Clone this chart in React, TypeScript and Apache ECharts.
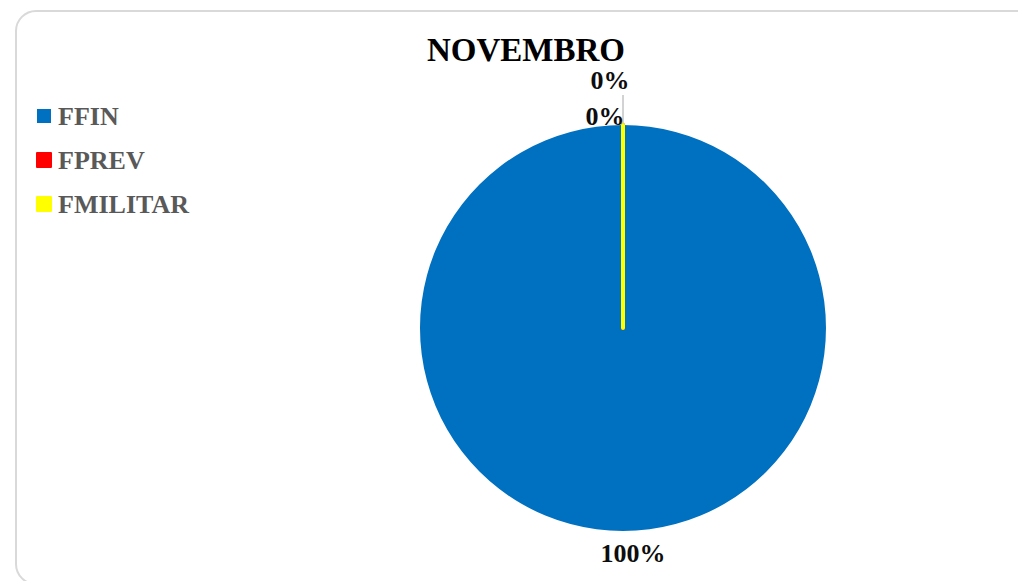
import React, { useEffect, useRef } from "react";
import * as echarts from "echarts";

const categories = ["FFIN", "FPREV", "FMILITAR"];
const values = [100, 0, 0];
const colors = ["#0070C0", "#FF0000", "#FFFF00"];
const title = "NOVEMBRO";

const FONT = "'Liberation Serif', 'Times New Roman', serif";
const CX = 623;
const CY = 328;
const R = 203;

export default function App() {
  const ref = useRef<HTMLDivElement>(null);
  useEffect(() => {
    if (!ref.current) return;
    const chart = echarts.init(ref.current, null, { renderer: "svg" });
    const data = categories.map((name, i) => ({
      name,
      value: values[i],
      itemStyle: {
        color: colors[i],
        borderColor: colors[i],
        borderWidth: i === 0 ? 0 : 4,
      },
      labelLine: { show: i === 2 },
    }));
    chart.setOption({
      animation: false,
      backgroundColor: "#ffffff",
      graphic: [
        {
          type: "rect",
          z: -10,
          shape: { x: 16, y: 11, width: 1040, height: 573, r: 20 },
          style: { fill: "transparent", stroke: "#d9d9d9", lineWidth: 2 },
          silent: true,
        },
      ],
      title: {
        text: title,
        left: 526,
        top: 33,
        padding: 0,
        textAlign: "center",
        textStyle: {
          fontFamily: FONT,
          fontWeight: "bold",
          fontSize: 33,
          lineHeight: 33,
          color: "#000000",
        },
      },
      legend: {
        orient: "vertical",
        left: 36,
        top: 103,
        padding: 0,
        icon: "rect",
        itemWidth: 14,
        itemHeight: 14,
        itemGap: 18,
        data: categories,
        textStyle: {
          fontFamily: FONT,
          fontWeight: "bold",
          fontSize: 26,
          lineHeight: 26,
          color: "#595959",
          padding: [0, 0, 0, 2],
        },
      },
      series: [
        {
          type: "pie",
          center: [CX, CY],
          radius: R,
          startAngle: 90,
          clockwise: true,
          avoidLabelOverlap: false,
          data,
          label: {
            show: true,
            position: "outside",
            formatter: "{d}%",
            fontFamily: FONT,
            fontWeight: "bold",
            fontSize: 26,
            lineHeight: 26,
            color: "#0d0d0d",
          },
          labelLine: {
            show: true,
            lineStyle: { color: "#a6a6a6", width: 1 },
          },
          emphasis: { disabled: true },
          labelLayout: (params: any) => {
            if (params.dataIndex === 0) {
              return { x: CX + 10, y: CY + R + 22, align: "center", verticalAlign: "middle" };
            }
            if (params.dataIndex === 1) {
              return { x: CX - 18, y: CY - R - 9, align: "center", verticalAlign: "middle" };
            }
            return {
              x: CX - 13,
              y: CY - R - 45,
              align: "center",
              verticalAlign: "middle",
              labelLinePoints: [
                [CX, CY - R],
                [CX, CY - R - 15],
                [CX, CY - R - 30],
              ],
            };
          },
        },
      ],
    });
    return () => chart.dispose();
  }, []);
  return (
    <div
      ref={ref}
      style={{ position: "fixed", left: 0, top: 0, width: 1018, height: 581 }}
    />
  );
}
